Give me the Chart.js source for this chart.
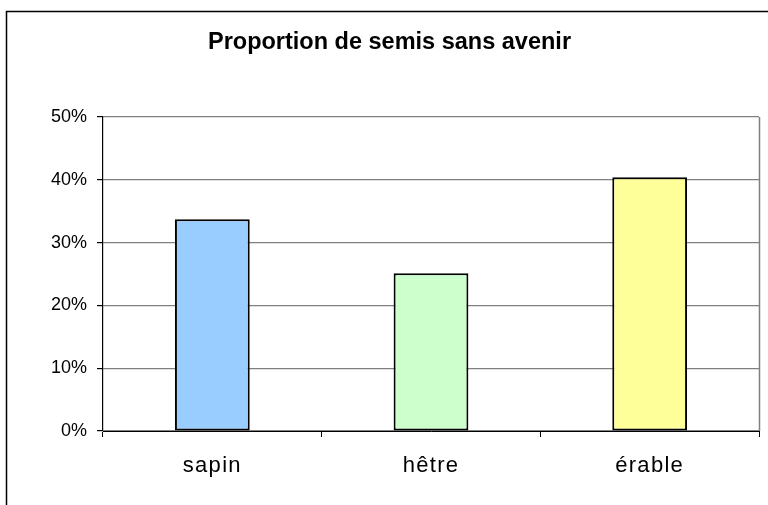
<!DOCTYPE html>
<html>
<head>
<meta charset="utf-8">
<script src="https://cdn.jsdelivr.net/npm/chart.js@4/dist/chart.umd.min.js"></script>
<style>
html,body{margin:0;padding:0;background:#fff;}
#wrap{width:768px;height:505px;position:relative;}
</style>
</head>
<body>
<div id="wrap"><canvas id="c" width="768" height="505"></canvas></div>
<script>
const chartTitle = "Proportion de semis sans avenir";
const categories = ["sapin", "hêtre", "érable"];
const values = [33.7, 25.1, 40.4];
const barColors = ["#99CCFF", "#CCFFCC", "#FFFF99"];
const yTicks = [0, 10, 20, 30, 40, 50];

const framePlugin = {
  id: 'frame',
  beforeDraw(chart) {
    const xs = chart.scales.x;
    if (xs && !xs._lsWrapped) {
      const orig = xs.drawLabels.bind(xs);
      xs.drawLabels = function (area) {
        const ctx = this.ctx;
        ctx.save();
        ctx.letterSpacing = '1.3px';
        orig(area);
        ctx.restore();
      };
      xs._lsWrapped = true;
    }
  },
  afterDraw(chart) {
    const ctx = chart.ctx, a = chart.chartArea;
    ctx.save();
    ctx.strokeStyle = '#000';
    ctx.lineWidth = 1.5;
    ctx.strokeRect(6.5, 11.5, 900, 700);
    ctx.strokeStyle = '#808080';
    ctx.lineWidth = 1.5;
    ctx.beginPath();
    ctx.moveTo(Math.round(a.right) + 0.5, a.top);
    ctx.lineTo(Math.round(a.right) + 0.5, a.bottom);
    ctx.stroke();
    ctx.restore();
  }
};

new Chart(document.getElementById('c'), {
  type: 'bar',
  data: {
    labels: categories,
    datasets: [{
      data: values,
      backgroundColor: barColors,
      borderColor: '#000',
      borderWidth: 2,
      borderSkipped: false,
      categoryPercentage: 1,
      barPercentage: 0.342
    }]
  },
  options: {
    responsive: false,
    animation: false,
    layout: { padding: { left: 20, right: 9, top: 0, bottom: 0 } },
    plugins: {
      legend: { display: false },
      tooltip: { enabled: false },
      title: {
        display: true,
        text: chartTitle,
        color: '#000',
        font: { family: 'Liberation Sans, Arial, sans-serif', size: 23.5, weight: 'bold' },
        padding: { top: 28.9, bottom: 59.9 }
      }
    },
    scales: {
      x: {
        offset: true,
        grid: { display: true, offset: true, drawOnChartArea: false, drawTicks: true, tickLength: 6, color: '#000', lineWidth: 1 },
        border: { display: true, color: '#000', width: 1 },
        ticks: { color: '#000', font: { family: 'Liberation Sans, Arial, sans-serif', size: 22 }, padding: 16, maxRotation: 0 },
        afterFit(s) { s.height = 74; }
      },
      y: {
        min: 0, max: 50,
        afterBuildTicks(s) { s.ticks = yTicks.map(v => ({ value: v })); },
        grid: { color: '#808080', lineWidth: 1.2, tickColor: '#000', tickLength: 6, drawTicks: true },
        border: { display: true, color: '#000', width: 1.2 },
        ticks: {
          color: '#000',
          font: { family: 'Liberation Sans, Arial, sans-serif', size: 18 },
          padding: 10,
          callback: v => v + '%'
        },
        afterFit(s) { s.width = 83; }
      }
    }
  },
  plugins: [framePlugin]
});
</script>
</body>
</html>
